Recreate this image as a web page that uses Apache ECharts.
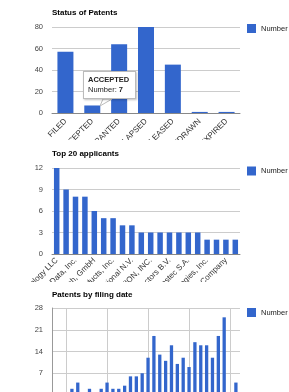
<!DOCTYPE html>
<html>
<head>
<meta charset="utf-8">
<script src="https://cdn.jsdelivr.net/npm/echarts@6/dist/echarts.min.js"></script>
<style>
html, body { margin: 0; padding: 0; background: #fff; overflow: hidden; width: 289px; height: 392px; }
.chart { position: absolute; left: 0; width: 289px; }
#statusChart { top: 0; height: 140px; }
#applicantChart { top: 140px; height: 142px; }
#dateChart { top: 285px; height: 140px; }
</style>
</head>
<body>
<div id="statusChart" class="chart"></div>
<div id="applicantChart" class="chart"></div>
<div id="dateChart" class="chart"></div>
<script>
// status of patents
const statusNames = ['FILED', 'ACCEPTED', 'GRANTED', 'LAPSED', 'RELEASED', 'WITHDRAWN', 'EXPIRED']
const statusCounts = [57, 7, 64, 80, 45, 1, 1]
const statusTicks = [0, 20, 40, 60, 80]

// top 20 applicants
const applicantNames = [
  'Google Technology LLC', 'Samsung Electronics Co., Ltd.', 'Intelligent Data, Inc.', 'Sony Corporation',
  'Robert Bosch, GmbH', 'Medtronic, Inc.', 'Abbott Products, Inc.', 'BASF SE',
  'Shell International N.V.', 'Nokia Corporation', 'RESEARCH IN MOTION, INC.', 'LG Electronics Inc.',
  'NXP Semiconductors B.V.', 'Panasonic Corporation', 'Nestec S.A.', 'Siemens AG',
  'Lucent Technologies, Inc.', 'Kabushiki Kaisha Toshiba', 'The Procter & Gamble Company', 'General Electric Company'
]
const applicantCounts = [12, 9, 8, 8, 6, 5, 5, 4, 4, 3, 3, 3, 3, 3, 3, 3, 2, 2, 2, 2]
const applicantTicks = [0, 3, 6, 9, 12]

// patents by filing date
const filingYears = [1985, 1986, 1988, 1990, 1991, 1992, 1993, 1994, 1995, 1996, 1997, 1998, 1999,
  2000, 2001, 2002, 2003, 2004, 2005, 2006, 2007, 2008, 2009, 2010, 2011, 2013]
const filingCounts = [2, 4, 2, 2, 4, 2, 2, 3, 6, 6, 7, 12, 19,
  13, 11, 16, 10, 12, 9, 17, 16, 16, 12, 19, 25, 4]
const filingTicks = [0, 7, 14, 21, 28]
const filingGridYears = [1984, 1991, 1998, 2005, 2012]

const FONT = '"Liberation Sans", Arial, sans-serif'
const BLUE = '#3366cc'

function title(text, top) {
  return {
    text,
    left: 52,
    top,
    padding: 0,
    textStyle: { fontSize: 8, fontWeight: 'bold', color: '#000', fontFamily: FONT },
  }
}

function legend(top) {
  return {
    data: ['Number'],
    left: 247,
    top,
    padding: 0,
    icon: 'rect',
    itemWidth: 9,
    itemHeight: 9,
    itemGap: 4,
    textStyle: { fontSize: 7.5, color: '#222', fontFamily: FONT },
  }
}

function grid(top, bottom) {
  return { left: 52, right: 49, top, bottom, containLabel: false, outerBoundsMode: 'none' }
}

function valueAxis(ticks, extra) {
  return Object.assign({
    type: 'value',
    min: ticks[0],
    max: ticks[ticks.length - 1],
    interval: ticks[1] - ticks[0],
    axisLine: { show: false },
    axisTick: { show: false },
    axisLabel: { fontSize: 7.5, color: '#444', margin: 9, fontFamily: FONT },
    splitLine: { lineStyle: { color: '#ccc', width: 1 } },
  }, extra || {})
}

function categoryAxis(names, interval, margin) {
  return {
    type: 'category',
    data: names,
    axisLine: { lineStyle: { color: '#888', width: 1 } },
    axisTick: { show: false },
    axisLabel: { rotate: 45, interval, hideOverlap: false, fontSize: 8, color: '#333', margin, fontFamily: FONT },
  }
}

// 专利状态
const statusChart = echarts.init(document.getElementById('statusChart'))
statusChart.setOption({
  animation: false,
  title: title('Status of Patents', 9),
  legend: legend(24),
  grid: grid(27, 27),
  tooltip: {
    trigger: 'item',
    triggerOn: 'none',
    alwaysShowContent: true,
    transitionDuration: 0,
    position: [83, 71],
    backgroundColor: '#fff',
    borderColor: '#bbb',
    borderWidth: 1,
    padding: [3, 4, 3, 4],
    textStyle: { fontSize: 7.5, color: '#222', fontFamily: FONT },
    extraCssText: 'box-shadow: 1px 1px 2px rgba(0,0,0,0.25); border-radius: 0; line-height: 10px; width: 43px;',
    formatter: p => '<b>' + p.name + '</b><br/>' + p.seriesName + ': <b>' + p.value + '</b>',
  },
  graphic: [{
    type: 'polygon',
    z: 100,
    shape: { points: [[103, 99], [112, 99], [100, 106]] },
    style: { fill: '#fff', stroke: '#bbb', lineWidth: 1 },
  }],
  xAxis: categoryAxis(statusNames, 0, 7),
  yAxis: valueAxis(statusTicks),
  series: [{
    name: 'Number',
    type: 'bar',
    data: statusCounts,
    barWidth: 16,
    itemStyle: { color: BLUE },
  }],
})
statusChart.dispatchAction({ type: 'showTip', seriesIndex: 0, dataIndex: 1 })

// 申请人前20
const applicantChart = echarts.init(document.getElementById('applicantChart'))
applicantChart.setOption({
  animation: false,
  title: title('Top 20 applicants', 9.5),
  legend: legend(26.5),
  grid: grid(28, 28),
  xAxis: categoryAxis(applicantNames, 1, 5),
  yAxis: valueAxis(applicantTicks),
  series: [{
    name: 'Number',
    type: 'bar',
    data: applicantCounts,
    barWidth: 5.5,
    itemStyle: { color: BLUE },
  }],
})

// 申请日期
const dateChart = echarts.init(document.getElementById('dateChart'))
dateChart.setOption({
  animation: false,
  title: title('Patents by filing date', 5.5),
  legend: legend(23),
  grid: grid(23, 30),
  xAxis: {
    type: 'value',
    min: 1981.6,
    max: 2013.7,
    axisLine: { show: false },
    axisTick: { show: false },
    axisLabel: { show: false },
    splitLine: { show: false },
  },
  yAxis: valueAxis(filingTicks, {
    axisLine: { show: true, lineStyle: { color: '#999', width: 1 } },
  }),
  series: [{
    name: 'Number',
    type: 'bar',
    data: filingYears.map((y, i) => [y, filingCounts[i]]),
    barWidth: 3.3,
    itemStyle: { color: BLUE },
    markLine: {
      silent: true,
      z: 1,
      symbol: 'none',
      label: { show: false },
      lineStyle: { color: '#ccc', width: 1, type: 'solid' },
      data: filingGridYears.map(y => ({ xAxis: y })),
    },
  }],
})
</script>
</body>
</html>
